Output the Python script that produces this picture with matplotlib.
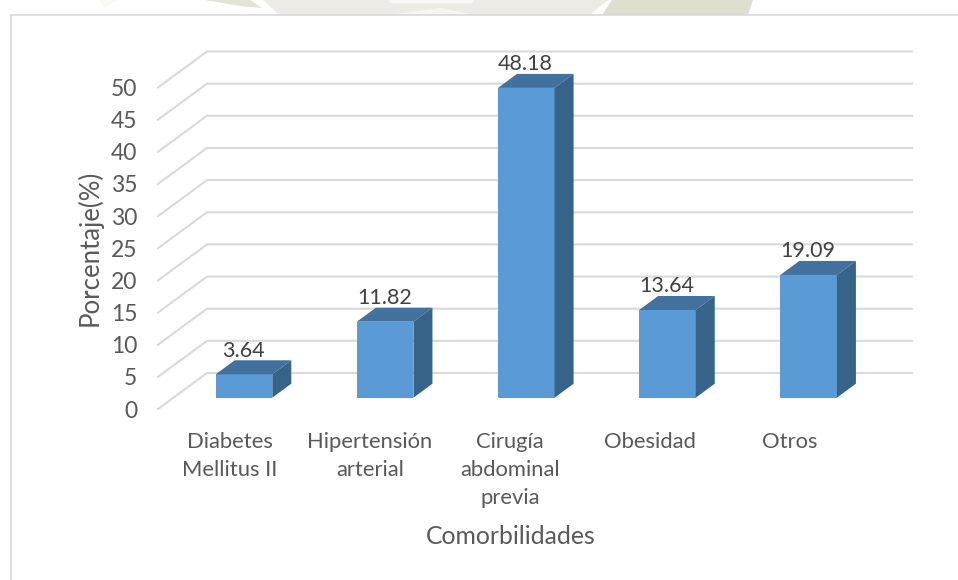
import matplotlib
matplotlib.use("Agg")
import matplotlib.pyplot as plt
from matplotlib.patches import Polygon, Rectangle

plt.rcParams['font.family'] = ['Lato', 'DejaVu Sans']

categories = ["Diabetes\nMellitus II", "Hipertensión\narterial", "Cirugía\nabdominal\nprevia", "Obesidad", "Otros"]
values = [3.64, 11.82, 48.18, 13.64, 19.09]
labels = ["3.64", "11.82", "48.18", "13.64", "19.09"]
y_ticks = [0, 5, 10, 15, 20, 25, 30, 35, 40, 45, 50]

W, H = 958, 580
fig = plt.figure(figsize=(W / 100, H / 100), dpi=100, facecolor='white')


def px_poly(pts, color):
    fig.add_artist(Polygon([(x / W, 1 - y / H) for x, y in pts], closed=True, transform=fig.transFigure,
                           fc=color, ec='none', zorder=-3))


# faint watermark visible above the chart frame
px_poly([(100, 0), (118, 0), (104, 8)], '#f9f9f5')
px_poly([(205, 0), (250, 0), (262, 8), (240, 6)], '#e4e3d8')
px_poly([(263, 0), (608, 0), (590, 15), (279, 15)], '#ecebe5')
px_poly([(388, 0), (474, 0), (473, 3), (390, 3)], '#f8f8f5')
px_poly([(395, 14), (440, 8), (470, 14)], '#f6f6f1')
px_poly([(612, 0), (753, 0), (748, 15), (602, 15)], '#dfdfd0')

# chart frame
fig.add_artist(Rectangle((11 / W, -0.01), 1.01, (580 - 15) / H + 0.01, transform=fig.transFigure,
                         fc='white', ec='#d9d9d9', lw=1.2, zorder=-2))

L, R, T, B = 158, 912, 50, 409
ax = fig.add_axes([L / W, 1 - B / H, (R - L) / W, (B - T) / H])
ppu_y = 6.43
ppu_x = 141.15
ax.set_ylim(0, (B - T) / ppu_y)
ax.set_xlim((L - 244) / ppu_x, (R - 244) / ppu_x)
ax.patch.set_alpha(0)
for s in ax.spines.values():
    s.set_visible(False)

wall_dx, wall_dy = 49 / ppu_x, 36 / ppu_y
x0 = ax.get_xlim()[0]
x1 = ax.get_xlim()[1]
for t in y_ticks:
    ax.plot([x0, x0 + wall_dx, x1], [t, t + wall_dy, t + wall_dy], color='#d9d9d9', lw=1.5,
            solid_joinstyle='miter', clip_on=False, zorder=1)

floor = (409 - 397.7) / ppu_y
dx, dy = 19 / ppu_x, 14 / ppu_y
w = 56.6 / ppu_x
xs = list(range(len(values)))
ax.bar(xs, values, width=w, bottom=floor, color='#5b9bd5', zorder=3)
for x, v, lab in zip(xs, values, labels):
    top = floor + v
    xl, xr = x - w / 2, x + w / 2
    ax.add_patch(Polygon([(xl, top), (xr, top), (xr + dx, top + dy), (xl + dx, top + dy)],
                         closed=True, fc='#41719c', ec='none', zorder=3, clip_on=False))
    ax.add_patch(Polygon([(xr, floor), (xr + dx, floor + dy), (xr + dx, top + dy), (xr, top)],
                         closed=True, fc='#376389', ec='none', zorder=3, clip_on=False))
    ax.text(x - 0.005, top + 2.1, lab, ha='center', va='bottom', fontsize=15.5, color='#404040', zorder=4)

ax.set_yticks(y_ticks)
ax.set_yticklabels([str(t) for t in y_ticks], fontsize=16.5, color='#595959')
ax.tick_params(axis='y', length=0, pad=15)
ax.set_xticks([])
for x, c in zip(xs, categories):
    ax.text(x * 0.992 - 0.1, -3.6, c, ha='center', va='top', fontsize=15.8, color='#595959',
            linespacing=1.5, zorder=4)

fig.text(90 / W, 1 - 248 / H, "Porcentaje(%)", rotation=90, ha='center', va='center',
         fontsize=18.5, color='#595959')
fig.text(511 / W, 1 - 537 / H, "Comorbilidades", ha='center', va='center',
         fontsize=17.8, color='#595959')

fig.savefig("out.png", dpi=100)
